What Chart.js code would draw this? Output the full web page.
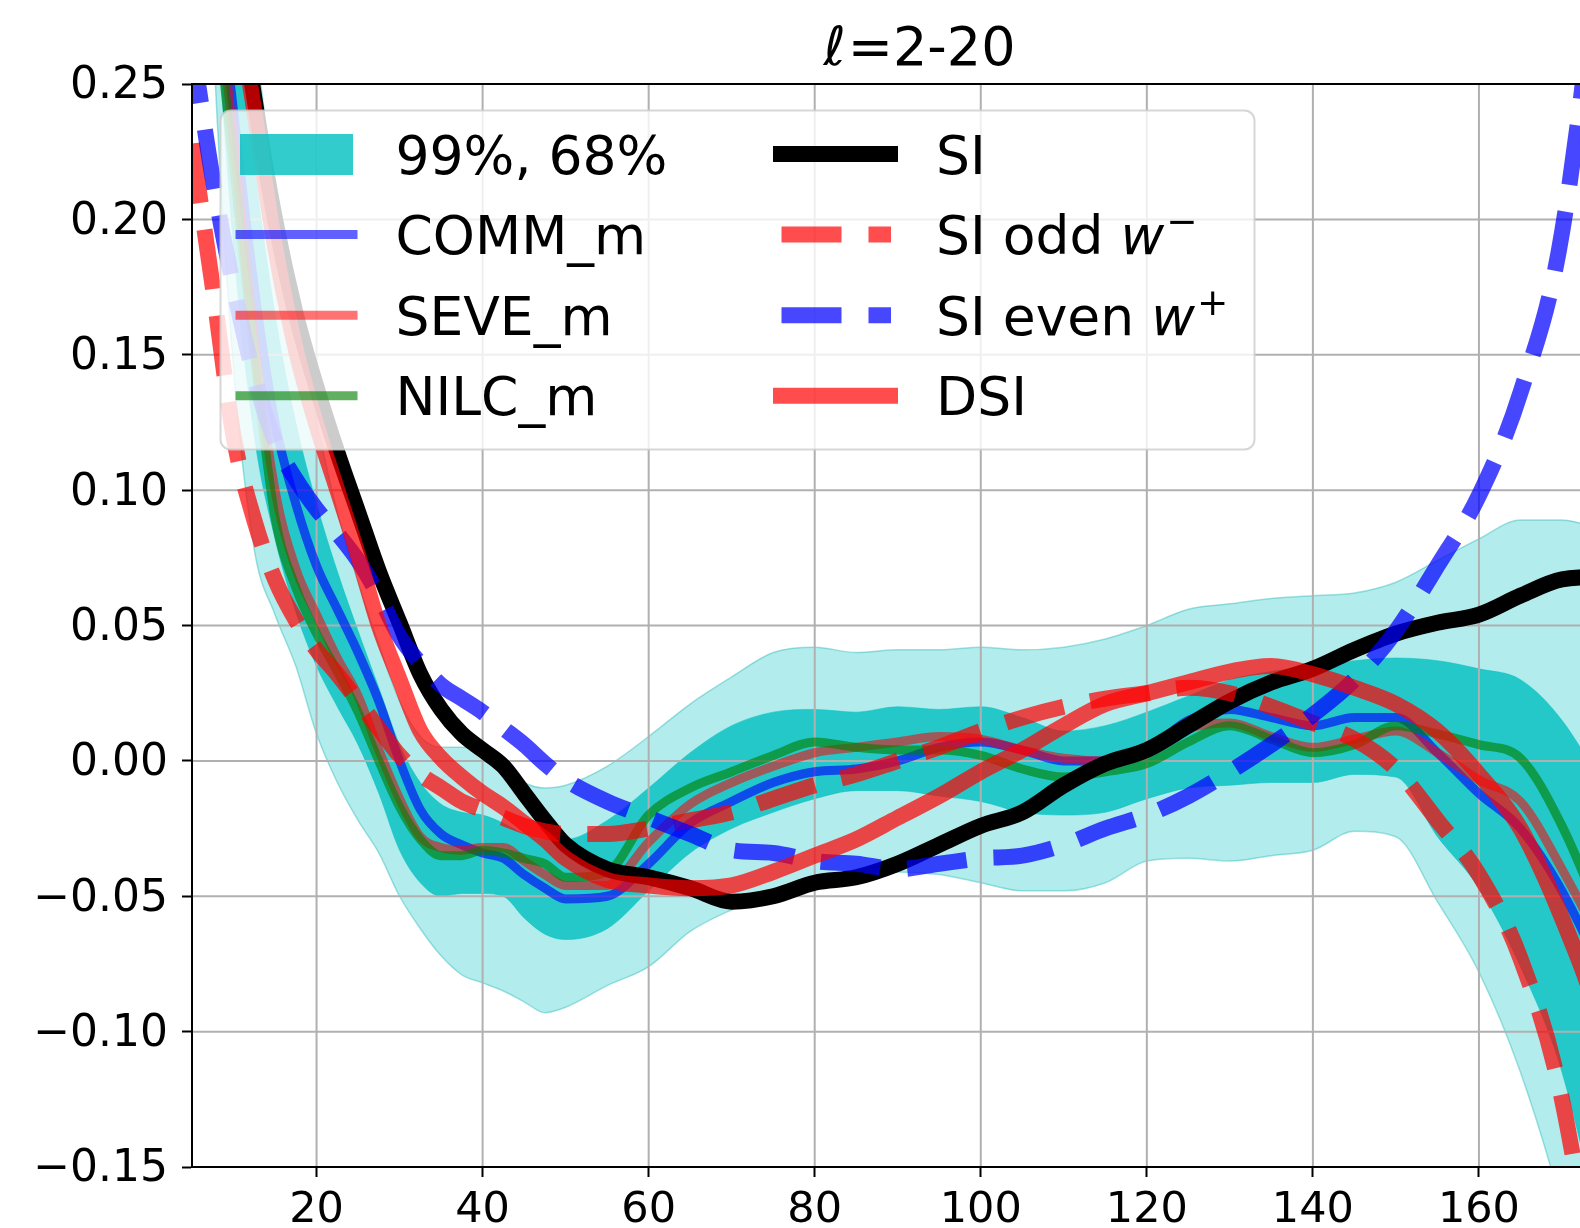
<!DOCTYPE html>
<html><head><meta charset="utf-8">
<script src="https://cdn.jsdelivr.net/npm/chart.js@4.4.1/dist/chart.umd.min.js"></script>
<style>
html,body{margin:0;padding:0;overflow:hidden;background:#fff;width:1580px;height:1228px}
#wrap{width:1700px;height:1228px}
canvas{display:block}
</style>
</head><body><div id="wrap"><canvas id="c" width="1700" height="1228"></canvas></div>
<script>
// ---------------- data ----------------
const titleMain = '=2-20';
const xs = [5,7.5,10,12.5,15,17.5,20,22.5,25,27.5,30,32.5,35,37.5,40,
  42.5,45,47.5,50,
  55,60,65,70,75,80,85,90,95,100,
  105,110,115,120,125,130,135,140,145,150,
  155,160,165,170,175,180];
const xTicks = [20,40,60,80,100,120,140,160,180];
const yTicks = [-0.15,-0.10,-0.05,0,0.05,0.10,0.15,0.20,0.25];

const siY = [0.50,0.38,0.30,0.245,0.20,0.165,0.138,0.114,0.092,0.070,0.051,0.032,0.019,0.010,0.004,
  -0.002,-0.012,-0.022,-0.031,
  -0.040,-0.043,-0.047,-0.052,-0.050,-0.045,-0.043,-0.038,-0.031,-0.024,
  -0.019,-0.009,-0.001,0.004,0.013,0.022,0.029,0.034,0.041,0.047,
  0.051,0.054,0.061,0.067,0.068,0.066];
const dsiY = [0.46,0.36,0.29,0.24,0.19,0.152,0.124,0.100,0.076,0.050,0.030,0.011,0.001,-0.006,-0.012,
  -0.017,-0.023,-0.029,-0.036,
  -0.044,-0.046,-0.047,-0.046,-0.041,-0.035,-0.029,-0.021,-0.013,-0.004,
  0.004,0.013,0.021,0.025,0.029,0.033,0.035,0.032,0.027,0.021,
  0.011,-0.005,-0.025,-0.058,-0.100,-0.160];
const siOddY = [0.228,0.175,0.120,0.089,0.067,0.052,0.041,0.032,0.022,0.012,0.002,-0.005,-0.010,-0.015,-0.018,
  -0.021,-0.024,-0.026,-0.027,
  -0.027,-0.025,-0.022,-0.019,-0.014,-0.009,-0.005,0.000,0.005,0.011,
  0.016,0.020,0.023,0.025,0.027,0.025,0.020,0.014,0.008,-0.003,
  -0.022,-0.042,-0.073,-0.125,-0.220,-0.350];
const siEvenY = [0.265,0.215,0.175,0.142,0.118,0.104,0.093,0.084,0.074,0.061,0.046,0.036,0.028,0.023,0.018,
  0.012,0.006,-0.001,-0.007,
  -0.015,-0.021,-0.027,-0.033,-0.034,-0.037,-0.038,-0.040,-0.038,-0.036,
  -0.035,-0.031,-0.025,-0.020,-0.013,-0.004,0.006,0.017,0.030,0.048,
  0.072,0.098,0.136,0.195,0.320,0.500];
const commY = [0.40,0.31,0.24,0.175,0.125,0.095,0.072,0.056,0.040,0.022,0.000,-0.018,-0.027,-0.031,-0.034,
  -0.036,-0.042,-0.047,-0.051,
  -0.050,-0.038,-0.023,-0.015,-0.008,-0.004,-0.003,0.000,0.005,0.007,
  0.004,0.000,0.000,0.004,0.015,0.019,0.016,0.013,0.016,0.016,
  0.003,-0.012,-0.025,-0.048,-0.080,-0.120];
const seveY = [0.38,0.30,0.23,0.155,0.100,0.071,0.054,0.038,0.024,0.004,-0.014,-0.028,-0.032,-0.033,-0.032,
  -0.032,-0.037,-0.042,-0.046,
  -0.046,-0.030,-0.016,-0.008,-0.002,0.003,0.005,0.007,0.009,0.008,
  0.004,0.001,0.000,0.004,0.012,0.014,0.009,0.005,0.008,0.011,
  0.003,-0.007,-0.015,-0.040,-0.070,-0.110];
const nilcY = [0.37,0.29,0.22,0.150,0.090,0.064,0.047,0.033,0.018,0.000,-0.017,-0.029,-0.035,-0.035,-0.033,
  -0.034,-0.036,-0.038,-0.043,
  -0.041,-0.020,-0.010,-0.004,0.002,0.007,0.005,0.004,0.004,0.002,
  -0.003,-0.006,-0.004,-0.001,0.007,0.013,0.008,0.003,0.006,0.013,
  0.010,0.006,0.001,-0.024,-0.060,-0.100];
const band99Hi = [0.60,0.45,0.34,0.27,0.21,0.16,0.125,0.092,0.066,0.043,0.022,0.009,0.005,0.005,0.004,
  -0.002,-0.008,-0.010,-0.009,
  -0.002,0.009,0.021,0.031,0.040,0.042,0.040,0.041,0.041,0.042,
  0.041,0.042,0.045,0.050,0.056,0.058,0.060,0.061,0.062,0.066,
  0.074,0.082,0.089,0.089,0.085,0.080];
const band99Lo = [0.48,0.27,0.145,0.078,0.054,0.035,0.010,-0.008,-0.022,-0.034,-0.050,-0.062,-0.072,-0.079,-0.082,
  -0.085,-0.089,-0.093,-0.091,
  -0.083,-0.076,-0.063,-0.055,-0.049,-0.046,-0.042,-0.041,-0.042,-0.045,
  -0.048,-0.048,-0.045,-0.037,-0.036,-0.037,-0.035,-0.033,-0.026,-0.028,
  -0.052,-0.078,-0.115,-0.165,-0.230,-0.300];
const band68Hi = [0.52,0.38,0.29,0.22,0.165,0.125,0.095,0.070,0.048,0.027,0.006,-0.008,-0.016,-0.019,-0.020,
  -0.023,-0.027,-0.029,-0.029,
  -0.022,-0.010,0.003,0.013,0.018,0.019,0.018,0.020,0.019,0.020,
  0.016,0.011,0.013,0.018,0.024,0.030,0.033,0.035,0.037,0.038,
  0.037,0.034,0.030,0.015,-0.010,-0.040];
const band68Lo = [0.45,0.30,0.19,0.12,0.082,0.055,0.035,0.020,0.006,-0.012,-0.033,-0.045,-0.050,-0.049,-0.049,
  -0.050,-0.058,-0.064,-0.066,
  -0.062,-0.048,-0.034,-0.025,-0.019,-0.014,-0.011,-0.011,-0.013,-0.015,
  -0.019,-0.020,-0.019,-0.014,-0.010,-0.009,-0.008,-0.008,-0.005,-0.006,
  -0.028,-0.047,-0.076,-0.115,-0.180,-0.260];

// ---------------- styles ----------------
const FAM = '"DejaVu Sans"';
const C = {
  band99: 'rgba(0,191,191,0.30)', band99Edge: 'rgba(0,170,170,0.35)',
  band68: 'rgba(0,191,191,0.80)',
  comm: 'rgba(0,0,255,0.62)', seve: 'rgba(255,0,0,0.55)', nilc: 'rgba(0,128,0,0.62)',
  si: '#000000', odd: 'rgba(255,0,0,0.70)', even: 'rgba(0,0,255,0.72)', dsi: 'rgba(255,0,0,0.70)'
};
const DASH = [60, 27];
const pts = arr => xs.map((x, i) => ({x: x, y: arr[i]}));

const base = {pointRadius: 0, pointHoverRadius: 0, clip: 0, borderJoinStyle: 'round', cubicInterpolationMode: 'monotone', fill: false};
const datasets = [
  Object.assign({}, base, {label: 'band99lo', data: pts(band99Lo), borderColor: C.band99Edge, borderWidth: 1.5, order: 10}),
  Object.assign({}, base, {label: 'band99hi', data: pts(band99Hi), borderColor: C.band99Edge, borderWidth: 1.5, backgroundColor: C.band99, fill: {target: 0}, order: 9}),
  Object.assign({}, base, {label: 'band68lo', data: pts(band68Lo), borderColor: 'rgba(0,191,191,0.5)', borderWidth: 1, order: 8}),
  Object.assign({}, base, {label: 'band68hi', data: pts(band68Hi), borderColor: 'rgba(0,191,191,0.5)', borderWidth: 1, backgroundColor: C.band68, fill: {target: 2}, order: 7}),
  Object.assign({}, base, {label: 'COMM_m', data: pts(commY), borderColor: C.comm, borderWidth: 9, order: 6}),
  Object.assign({}, base, {label: 'SEVE_m', data: pts(seveY), borderColor: C.seve, borderWidth: 9, order: 5}),
  Object.assign({}, base, {label: 'NILC_m', data: pts(nilcY), borderColor: C.nilc, borderWidth: 9, order: 4}),
  Object.assign({}, base, {label: 'SI', data: pts(siY), borderColor: C.si, borderWidth: 16, order: 3}),
  Object.assign({}, base, {label: 'SI odd', data: pts(siOddY), borderColor: C.odd, borderWidth: 16, borderDash: DASH, order: 2.5}),
  Object.assign({}, base, {label: 'SI even', data: pts(siEvenY), borderColor: C.even, borderWidth: 16, borderDash: DASH, order: 2}),
  Object.assign({}, base, {label: 'DSI', data: pts(dsiY), borderColor: C.dsi, borderWidth: 16, order: 1})
];

// grid drawn above the bands but below the lines (matplotlib zorder)
const gridPlugin = {
  id: 'midGrid',
  afterDatasetDraw(chart, args) {
    if (args.index !== 3) return;
    const ctx = chart.ctx, a = chart.chartArea;
    const sx = chart.scales.x, sy = chart.scales.y;
    ctx.save();
    ctx.beginPath(); ctx.rect(a.left, a.top, a.right - a.left, a.bottom - a.top); ctx.clip();
    ctx.strokeStyle = '#b0b0b0'; ctx.lineWidth = 2;
    sx.ticks.forEach(t => { const p = sx.getPixelForValue(t.value); if (p > a.left + 1 && p < a.right - 1) { ctx.beginPath(); ctx.moveTo(p, a.top); ctx.lineTo(p, a.bottom); ctx.stroke(); } });
    sy.ticks.forEach(t => { const p = sy.getPixelForValue(t.value); if (p > a.top + 1 && p < a.bottom - 1) { ctx.beginPath(); ctx.moveTo(a.left, p); ctx.lineTo(a.right, p); ctx.stroke(); } });
    ctx.restore();
  }
};

function drawHandleLine(ctx, x0, x1, y, color, lw, cap, dash) {
  ctx.save();
  ctx.strokeStyle = color; ctx.lineWidth = lw; ctx.lineCap = cap;
  ctx.setLineDash(dash || []);
  ctx.beginPath(); ctx.moveTo(x0, y); ctx.lineTo(x1, y); ctx.stroke();
  ctx.restore();
}

const legendPlugin = {
  id: 'legendBox',
  afterDatasetsDraw(chart) {
    const ctx = chart.ctx;
    ctx.save();
    ctx.beginPath();
    ctx.roundRect(220.5, 110.5, 1034, 339, 10);
    ctx.fillStyle = 'rgba(255,255,255,0.8)'; ctx.fill();
    ctx.strokeStyle = 'rgba(204,204,204,0.8)'; ctx.lineWidth = 2; ctx.stroke();

    const rows = [154, 234.6, 315.2, 395.8];
    const fs = 53.5, base = fs * 0.3645;
    // column 1
    ctx.fillStyle = C.band68; ctx.fillRect(240, 134, 113, 41);
    drawHandleLine(ctx, 240, 353, rows[1], C.comm, 9, 'square');
    drawHandleLine(ctx, 240, 353, rows[2], C.seve, 9, 'square');
    drawHandleLine(ctx, 240, 353, rows[3], C.nilc, 9, 'square');
    // column 2
    drawHandleLine(ctx, 781, 890, rows[0], C.si, 16, 'square');
    drawHandleLine(ctx, 781.5, 891, rows[1], C.odd, 16, 'butt', DASH);
    drawHandleLine(ctx, 781.5, 891, rows[2], C.even, 16, 'butt', DASH);
    drawHandleLine(ctx, 781, 890, rows[3], C.dsi, 16, 'square');

    ctx.fillStyle = '#000'; ctx.textAlign = 'left'; ctx.textBaseline = 'alphabetic';
    const reg = fs + 'px ' + FAM, ital = 'italic ' + fs + 'px ' + FAM, sup = (fs * 0.7) + 'px ' + FAM;
    ctx.font = reg;
    ['99%, 68%', 'COMM_m', 'SEVE_m', 'NILC_m'].forEach((t, i) => ctx.fillText(t, 395.5, rows[i] + base));
    ctx.fillText('SI', 936, rows[0] + base);
    ctx.fillText('DSI', 936, rows[3] + base);
    const mathEntry = (pre, sign, y) => {
      ctx.font = reg; ctx.fillText(pre, 936, y);
      let x = 936 + ctx.measureText(pre).width;
      ctx.font = ital; ctx.fillText('w', x, y);
      x += ctx.measureText('w').width + 2;
      ctx.font = sup; ctx.fillText(sign, x, y - 20);
    };
    mathEntry('SI odd ', '\u2212', rows[1] + base);
    mathEntry('SI even ', '+', rows[2] + base);
    ctx.restore();
  }
};

const framePlugin = {
  id: 'frameTitle',
  afterDraw(chart) {
    const ctx = chart.ctx, a = chart.chartArea;
    ctx.save();
    ctx.strokeStyle = '#000'; ctx.lineWidth = 2; ctx.lineCap = 'square';
    ctx.beginPath();
    ctx.moveTo(a.left, a.bottom); ctx.lineTo(a.left, a.top); ctx.lineTo(a.right, a.top);
    ctx.moveTo(a.left, a.bottom); ctx.lineTo(a.right, a.bottom);
    ctx.stroke();
    // title  ℓ=2-20 (ℓ in italic, as matplotlib mathtext)
    const fi = 'italic 54px ' + FAM, fr = '54px ' + FAM;
    ctx.fillStyle = '#000'; ctx.textBaseline = 'alphabetic'; ctx.textAlign = 'left';
    ctx.font = fi; const w1 = ctx.measureText('\u2113').width;
    ctx.font = fr; const w2 = ctx.measureText(titleMain).width;
    const x0 = (a.left + a.right) / 2 - (w1 + w2) / 2;
    ctx.font = fi; ctx.fillText('\u2113', x0, 65);
    ctx.font = fr; ctx.fillText(titleMain, x0 + w1 + 2, 65);
    ctx.restore();
  }
};

const fmtY = v => { const r = Math.round(v * 100) / 100; return (r < 0 ? '\u2212' : '') + Math.abs(r).toFixed(2); };

new Chart(document.getElementById('c'), {
  type: 'line',
  data: {datasets: datasets},
  options: {
    responsive: false, animation: false, devicePixelRatio: 1,
    layout: {padding: {left: 0, top: 84, right: 55, bottom: 0}},
    plugins: {legend: {display: false}, tooltip: {enabled: false}, title: {display: false}},
    scales: {
      x: {
        type: 'linear', min: 5, max: 180,
        afterBuildTicks: s => { s.ticks = xTicks.map(v => ({value: v})); },
        afterFit: s => { s.height = 61; },
        ticks: {font: {family: 'DejaVu Sans', size: 43}, color: '#000', padding: 8, maxRotation: 0, autoSkip: false, callback: v => String(v)},
        grid: {drawOnChartArea: false, tickLength: 10, tickColor: '#000', tickWidth: 2},
        border: {display: true, color: '#000', width: 2}
      },
      y: {
        type: 'linear', min: -0.15, max: 0.25,
        afterBuildTicks: s => { s.ticks = yTicks.map(v => ({value: v})); },
        afterFit: s => { s.width = 192; },
        ticks: {font: {family: 'DejaVu Sans', size: 44}, color: '#000', padding: 14, labelOffset: 3, autoSkip: false, callback: v => fmtY(v)},
        grid: {drawOnChartArea: false, tickLength: 10, tickColor: '#000', tickWidth: 2},
        border: {display: true, color: '#000', width: 2}
      }
    }
  },
  plugins: [gridPlugin, legendPlugin, framePlugin]
});
</script>
</body></html>
